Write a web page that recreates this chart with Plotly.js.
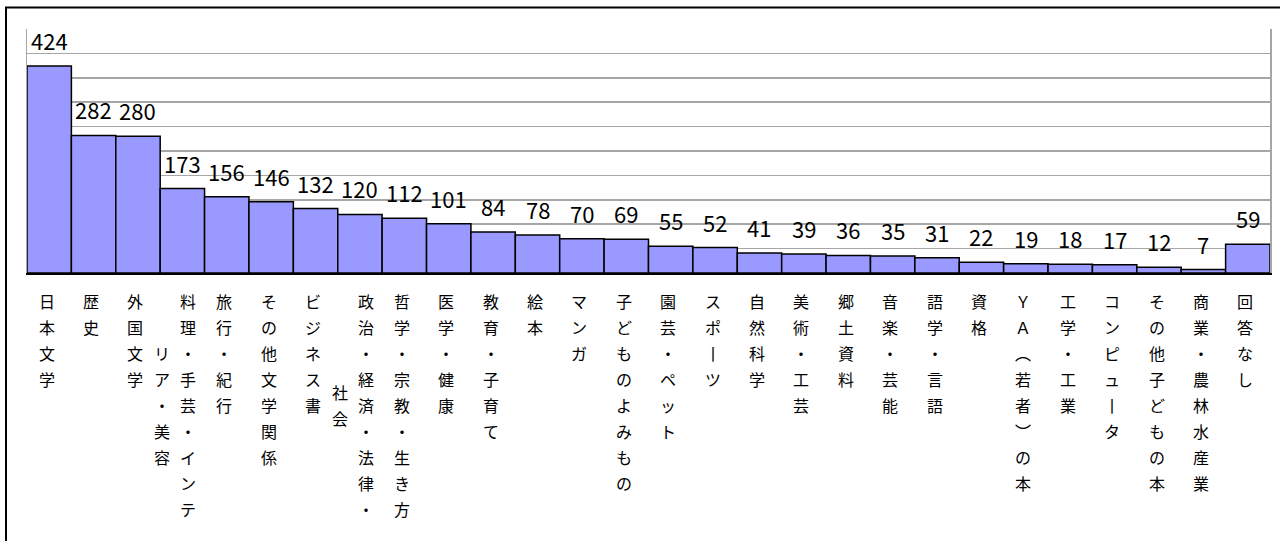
<!DOCTYPE html>
<html>
<head>
<meta charset="utf-8">
<script src="https://cdn.plot.ly/plotly-3.0.1.min.js"></script>
<style>
  html, body { margin: 0; padding: 0; background: #ffffff; }
  #chart { width: 1280px; height: 541px; }
</style>
</head>
<body>
<div id="chart"></div>
<script>
// ---- data ----
const categories = ['日本文学','歴史','外国文学','料理・手芸・インテリア・美容','旅行・紀行','その他文学関係','ビジネス書','政治・経済・法律・社会','哲学・宗教・生き方','医学・健康','教育・子育て','絵本','マンガ','子どものよみもの','園芸・ペット','スポーツ','自然科学','美術・工芸','郷土資料','音楽・芸能','語学・言語','資格','ＹＡ（若者）の本','工学・工業','コンピュータ','その他子どもの本','商業・農林水産業','回答なし'];
const counts = [424,282,280,173,156,146,132,120,112,101,84,78,70,69,55,52,41,39,36,35,31,22,19,18,17,12,7,59];
const yTicks = [0,50,100,150,200,250,300,350,400,450,500];

// ---- layout geometry (pixels) ----
const W = 1280, H = 541;
const M = {l: 27, r: 10, t: 29, b: 268};
const plotW = W - M.l - M.r, plotH = H - M.t - M.b;
const plotBottom = H - M.b;
const px2x = p => (p - M.l) / plotW;
const px2y = p => (plotBottom - p) / plotH;

const FONT = '"Noto Sans CJK JP", "Noto Sans", sans-serif';
const ROWS = 9, ROW_H = 26, FIRST_ROW = 28;

// glyph substitutions for vertical writing
const vert = {'ー': '丨', '（': '︵', '）': '︶', '(': '︵', ')': '︶'};

const annotations = [];

// value labels
categories.forEach((c, i) => {
  annotations.push({
    x: c, y: counts[i], xref: 'x', yref: 'y',
    text: String(counts[i]), showarrow: false,
    yanchor: 'bottom', xanchor: 'center', yshift: 8,
    font: {family: FONT, size: 22, color: '#000000'}
  });
});

// vertical category labels (stacked characters, columns right to left)
categories.forEach((c) => {
  const chars = Array.from(c).map(ch => vert[ch] || ch);
  const cols = [];
  for (let k = 0; k < chars.length; k += ROWS) cols.push(chars.slice(k, k + ROWS));
  const twoCol = cols.length > 1;
  cols.forEach((col, ci) => {
    const xs = twoCol ? (ci === 0 ? 6 : -20) : -2.5;
    const start = ci === 0 ? 0 : (ROWS - col.length) / 2;
    col.forEach((ch, r) => {
      annotations.push({
        x: c, y: 0, xref: 'x', yref: 'paper',
        text: ch, showarrow: false,
        xanchor: 'center', yanchor: 'middle',
        xshift: xs, yshift: -(FIRST_ROW + (start + r) * ROW_H),
        font: {family: FONT, size: 16, color: '#000000'}
      });
    });
  });
});

const shapes = [
  {type: 'line', xref: 'paper', yref: 'paper', x0: px2x(6), x1: px2x(6), y0: px2y(7.5), y1: px2y(560), line: {color: '#000000', width: 2}},
  {type: 'line', xref: 'paper', yref: 'paper', x0: px2x(5), x1: px2x(1300), y0: px2y(7.5), y1: px2y(7.5), line: {color: '#000000', width: 2}}
];

const trace = {
  type: 'bar',
  x: categories,
  y: counts,
  marker: {color: '#9999FF', line: {color: '#000000', width: 1.5}},
  hoverinfo: 'x+y'
};

const layout = {
  width: W, height: H,
  margin: M,
  paper_bgcolor: '#ffffff', plot_bgcolor: '#ffffff',
  showlegend: false,
  bargap: 0,
  font: {family: FONT, color: '#000000'},
  xaxis: {
    type: 'category',
    showticklabels: false, ticks: '',
    showgrid: false, zeroline: false,
    showline: true, linecolor: '#000000', linewidth: 2
  },
  yaxis: {
    range: [0, 500],
    tickmode: 'array', tickvals: yTicks,
    showticklabels: false, ticks: '',
    showgrid: true, gridcolor: '#a6a6a6', gridwidth: 1.5,
    zeroline: false,
    showline: true, linecolor: '#a6a6a6', linewidth: 1.5, mirror: true
  },
  annotations: annotations,
  shapes: shapes
};

Plotly.newPlot('chart', [trace], layout, {displayModeBar: false, staticPlot: true});
</script>
</body>
</html>
